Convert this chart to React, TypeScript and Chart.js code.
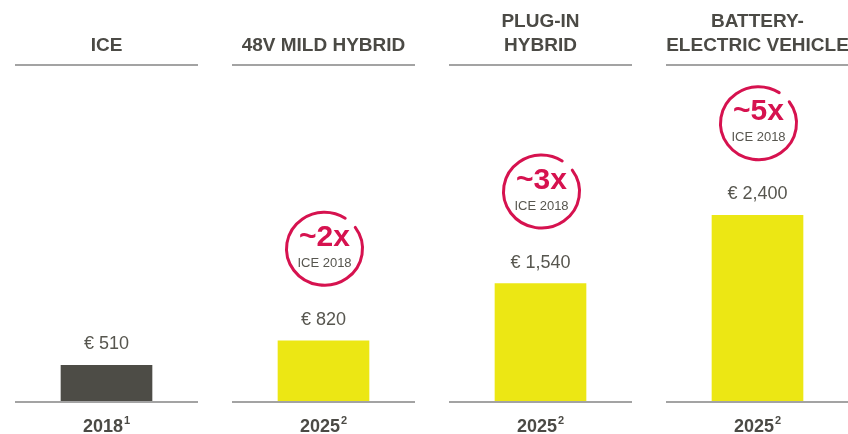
import React, { useEffect, useRef } from "react";
import { Chart, registerables } from "chart.js";

Chart.register(...registerables);

// ---- data ----
const categories = ["ICE", "48V MILD HYBRID", "PLUG-IN HYBRID", "BATTERY-ELECTRIC VEHICLE"];
const headerLines = [["ICE"], ["48V MILD HYBRID"], ["PLUG-IN", "HYBRID"], ["BATTERY-", "ELECTRIC VEHICLE"]];
const costs = [510, 820, 1540, 2400];
const valueLabels = ["€ 510", "€ 820", "€ 1,540", "€ 2,400"];
const years = ["2018", "2025", "2025", "2025"];
const footnotes = ["1", "2", "2", "2"];
const multipliers: (string | null)[] = [null, "~2x", "~3x", "~5x"];
const multiplierBase = "ICE 2018";

// ---- styles ----
const barColors = ["#4d4c46", "#ece714", "#ece714", "#ece714"];
const TEXT_DARK = "#4b4a45";
const TEXT_GRAY = "#57564f";
const RULE = "#a3a3a3";
const ACCENT = "#d6124f";
const FONT = "'Liberation Sans', Arial, Helvetica, sans-serif";

const overlay = {
  id: "overlay",
  afterDatasetsDraw(chart: any) {
    const ctx = chart.ctx as CanvasRenderingContext2D;
    const xs = chart.scales.x;
    const ys = chart.scales.y;
    const half = 91.5;
    const base = chart.chartArea.bottom;
    const headTop = chart.chartArea.top;
    ctx.save();
    categories.forEach((_, i) => {
      const cx = xs.getPixelForValue(i);
      const top = ys.getPixelForValue(costs[i]);

      // header text
      ctx.fillStyle = TEXT_DARK;
      ctx.font = `bold 19px ${FONT}`;
      ctx.textAlign = "center";
      ctx.textBaseline = "alphabetic";
      const lines = headerLines[i];
      lines.forEach((ln, j) => {
        ctx.fillText(ln, cx, headTop - 14 - (lines.length - 1 - j) * 24);
      });

      // header rule & base rule
      ctx.fillStyle = RULE;
      ctx.fillRect(cx - half, headTop - 1, 2 * half, 2);
      ctx.fillRect(cx - half, base - 1, 2 * half, 2);

      // value label
      ctx.fillStyle = TEXT_GRAY;
      ctx.font = `18px ${FONT}`;
      ctx.textAlign = "center";
      ctx.fillText(valueLabels[i], cx, top - 16);

      // multiplier circle
      const m = multipliers[i];
      if (m) {
        const ccx = cx + 1;
        const ccy = top - 92;
        ctx.strokeStyle = ACCENT;
        ctx.lineWidth = 3;
        ctx.lineCap = "round";
        ctx.beginPath();
        ctx.ellipse(ccx, ccy, 38, 36.5, 0, (-36 * Math.PI) / 180, (303 * Math.PI) / 180, false);
        ctx.stroke();
        ctx.fillStyle = ACCENT;
        ctx.font = `bold 30px ${FONT}`;
        ctx.textAlign = "center";
        ctx.fillText(m, ccx, ccy - 3);
        ctx.fillStyle = TEXT_GRAY;
        ctx.font = `13px ${FONT}`;
        ctx.fillText(multiplierBase, ccx, ccy + 18);
      }

      // year + footnote
      ctx.fillStyle = TEXT_DARK;
      ctx.font = `bold 18px ${FONT}`;
      const wy = ctx.measureText(years[i]).width;
      ctx.font = `bold 11px ${FONT}`;
      const wf = ctx.measureText(footnotes[i]).width;
      const total = wy + 1 + wf;
      const x0 = cx - total / 2;
      ctx.textAlign = "left";
      ctx.font = `bold 18px ${FONT}`;
      ctx.fillText(years[i], x0, base + 30);
      ctx.font = `bold 11px ${FONT}`;
      ctx.fillText(footnotes[i], x0 + wy + 1, base + 22);
    });
    ctx.restore();
  },
};

export default function App() {
  const ref = useRef<HTMLCanvasElement | null>(null);
  useEffect(() => {
    if (!ref.current) return;
    const chart = new Chart(ref.current, {
      type: "bar",
      data: {
        datasets: [
          {
            data: costs.map((v, i) => ({ x: i, y: v })),
            backgroundColor: barColors,
            barThickness: 91,
            borderWidth: 0,
          },
        ],
      },
      options: {
        animation: false,
        responsive: true,
        maintainAspectRatio: false,
        layout: { padding: { top: 65, bottom: 32, left: 0, right: 0 } },
        plugins: { legend: { display: false }, tooltip: { enabled: false } },
        scales: {
          x: {
            type: "linear",
            offset: false,
            bounds: "ticks",
            min: -106.5 / 217,
            max: (848 - 106.5) / 217,
            display: false,
          },
          y: { min: 50, max: 4290, display: false },
        },
      },
      plugins: [overlay],
    } as any);
    return () => chart.destroy();
  }, []);
  return (
    <div style={{ position: "fixed", left: 0, top: 0, width: 848, height: 434, background: "#fff" }}>
      <canvas ref={ref} />
    </div>
  );
}
